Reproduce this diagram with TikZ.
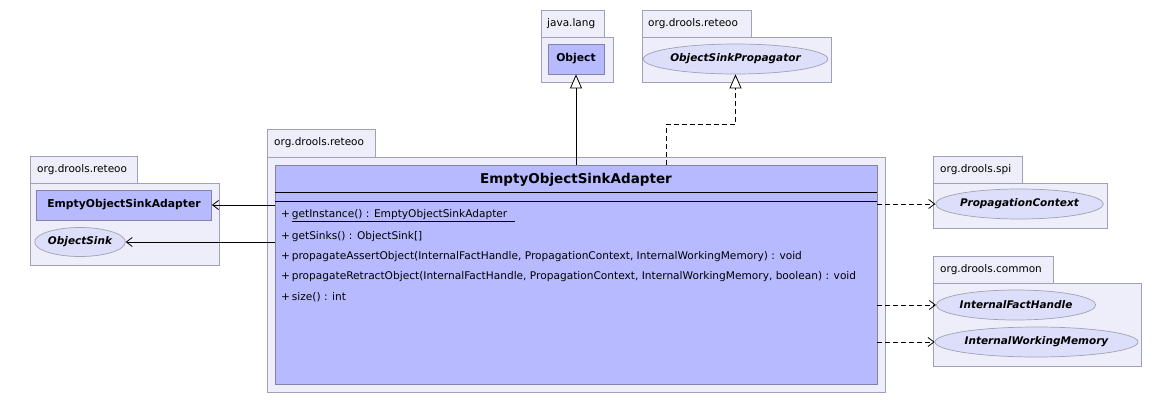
\documentclass[tikz,border=0pt]{standalone}
\usepackage{fontspec}
\setmainfont{DejaVu Sans}
\usetikzlibrary{shapes.geometric,arrows.meta}
\definecolor{pkgfill}{RGB}{238,238,250}
\definecolor{pkgdraw}{RGB}{160,160,182}
\definecolor{clsfill}{RGB}{184,186,255}
\definecolor{clsdraw}{RGB}{130,130,170}
\definecolor{elfill}{RGB}{221,222,250}
\tikzset{
  pkg/.style={draw=pkgdraw, fill=pkgfill, line width=0.8pt},
  pkglabel/.style={anchor=west, font=\fontsize{10.5}{12}\selectfont, inner sep=0pt},
  cls/.style={draw=clsdraw, fill=clsfill, line width=0.8pt, inner sep=0pt, font=\bfseries\fontsize{10.8}{14}\selectfont},
  iface/.style={ellipse, draw=pkgdraw, fill=elfill, line width=0.7pt, inner sep=0pt, font=\bfseries\itshape\fontsize{10.5}{13}\selectfont},
  meth/.style={anchor=west, inner sep=0pt, font=\fontsize{10.6}{12}\selectfont},
  inh/.style={-{Triangle[open, fill=white, length=14pt, width=12pt]}, line width=0.8pt},
  real/.style={-{Triangle[open, fill=white, length=14pt, width=12pt]}, dashed, dash pattern=on 5pt off 3pt, line width=0.8pt},
  assoc/.style={-{Straight Barb[length=6pt, width=9pt]}, line width=0.8pt},
  dep/.style={-{Straight Barb[length=6pt, width=9pt]}, dash pattern=on 5pt off 3pt, line width=0.8pt},
}
\begin{document}
\begin{tikzpicture}[x=1pt, y=-1pt]
\useasboundingbox[fill=white] (0,0) rectangle (1170,403);
% java.lang
\draw[pkg] (541,10) rectangle (604,37);
\draw[pkg] (541,37) rectangle (613,82);
\node[pkglabel] (pjl) at (547,24) {java.lang};
\node[cls, minimum width=56pt, minimum height=30pt] (obj) at (576,59) {Object};
% org.drools.reteoo top
\draw[pkg] (642,10) rectangle (751,37);
\draw[pkg] (642,37) rectangle (831,82);
\node[pkglabel] (pr1) at (648,24) {org.drools.reteoo};
\node[iface, minimum width=173pt, minimum height=30pt] (osp) at (735.5,59) {ObjectSinkPropagator};
% main package
\draw[pkg] (267,129) rectangle (375,157);
\draw[pkg] (267,157) rectangle (885,392);
\node[pkglabel] (pr2) at (274,143) {org.drools.reteoo};
\node[cls, minimum width=602pt, minimum height=219pt] (main) at (576,274.5) {};
\node[font=\bfseries\fontsize{13.5}{16}\selectfont, inner sep=0pt] (title) at (576,180) {EmptyObjectSinkAdapter};
\draw[line width=0.8pt] (main.west |- 0,192) -- (main.east |- 0,192);
\draw[line width=0.8pt] (main.west |- 0,201) -- (main.east |- 0,201);
\node[meth] (m1) at (281,216) {+\,\underline{getInstance() : EmptyObjectSinkAdapter\hspace{8pt}}};
\node[meth] (m2) at (281,237) {+\,getSinks() : ObjectSink[]};
\node[meth] (m3) at (281,257) {+\,propagateAssertObject(InternalFactHandle, PropagationContext, InternalWorkingMemory) : void};
\node[meth] (m4) at (281,277) {+\,propagateRetractObject(InternalFactHandle, PropagationContext, InternalWorkingMemory, boolean) : void};
\node[meth] (m5) at (281,297) {+\,size() : int};
% left package
\draw[pkg] (30,156) rectangle (137,183);
\draw[pkg] (30,183) rectangle (219,265);
\node[pkglabel] (pr3) at (37,170) {org.drools.reteoo};
\node[cls, minimum width=175pt, minimum height=30pt] (esa) at (124,205) {EmptyObjectSinkAdapter};
\node[iface, minimum width=86pt, minimum height=29pt] (os) at (80,242) {ObjectSink};
% org.drools.spi
\draw[pkg] (933,156) rectangle (1022,183);
\draw[pkg] (933,183) rectangle (1107,228);
\node[pkglabel] (pspi) at (940,170) {org.drools.spi};
\node[iface, minimum width=159pt, minimum height=30pt] (pc) at (1019.5,204) {PropagationContext};
% org.drools.common
\draw[pkg] (933,256) rectangle (1053,283);
\draw[pkg] (933,283) rectangle (1141,366);
\node[pkglabel] (pcom) at (940,270) {org.drools.common};
\node[iface, minimum width=152pt, minimum height=30pt] (ifh) at (1016,305) {InternalFactHandle};
\node[iface, minimum width=193pt, minimum height=30pt] (iwm) at (1036.5,342) {InternalWorkingMemory};
% connectors
\draw[inh] (main.north) -- (obj.south);
\draw[real] ([xshift=90pt]main.north) -- ++(0,-40) -| (osp.south);
\draw[assoc] (main.west |- esa.east) -- (esa.east);
\draw[assoc] (main.west |- os.east) -- (os.east);
\draw[dep] (main.east |- pc.west) -- (pc.west);
\draw[dep] (main.east |- ifh.west) -- (ifh.west);
\draw[dep] (main.east |- iwm.west) -- (iwm.west);
\end{tikzpicture}
\end{document}
